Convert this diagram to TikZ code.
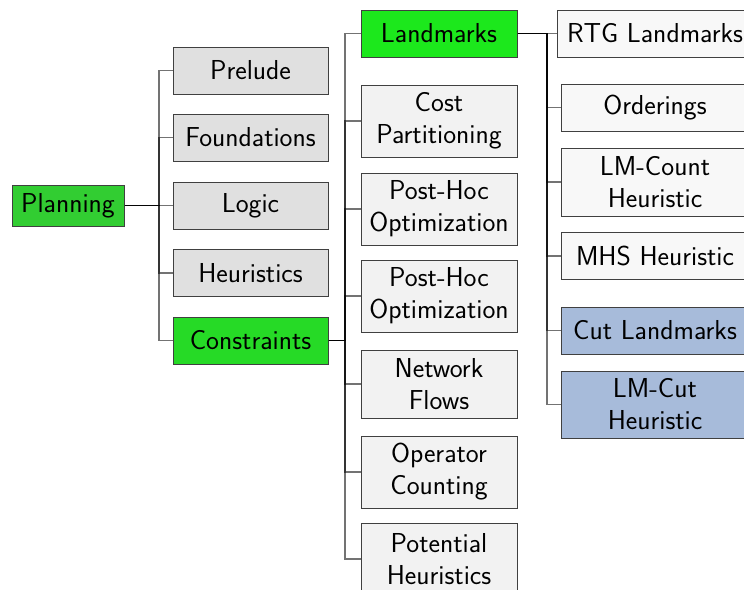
\documentclass[tikz,border=0pt]{standalone}
\usetikzlibrary{positioning}
\definecolor{gA}{RGB}{50,205,50}
\definecolor{gB}{RGB}{38,218,38}
\definecolor{gC}{RGB}{28,232,28}
\definecolor{blueC}{RGB}{167,187,218}
\definecolor{grayA}{RGB}{224,224,224}
\definecolor{grayB}{RGB}{242,242,242}
\definecolor{grayC}{RGB}{248,248,248}
\begin{document}
\begin{tikzpicture}[x=1pt,y=-1pt,
  box/.style={draw=black!75, line width=1pt, rectangle, inner sep=0pt, align=center,
    font=\sffamily\fontsize{27.4}{32}\selectfont},
  conn/.style={draw=black, draw opacity=0.55, line width=1.1pt}]
\clip (0,0) rectangle (744,589);
\useasboundingbox (0,0) rectangle (744,589);
% column 1
\node[box, fill=gA, minimum width=112pt, minimum height=41pt] (planning) at (68,205.5) {Planning};
% column 2
\tikzset{c2/.style={box, fill=grayA, minimum width=155pt, minimum height=47pt}}
\node[c2] (prelude) at (250.5,70.5) {Prelude};
\node[c2] (found) at (250.5,137.5) {Foundations};
\node[c2] (logic) at (250.5,205.5) {Logic};
\node[c2] (heur) at (250.5,273) {Heuristics};
\node[c2, fill=gB] (constr) at (250.5,340.5) {Constraints};
% column 3
\tikzset{c3/.style={box, fill=grayB, minimum width=156pt, minimum height=72pt}}
\node[c3, fill=gC, minimum height=47pt] (landm) at (439,33.5) {Landmarks};
\node[c3] (cost) at (439,121) {Cost\\Partitioning};
\node[c3] (pho1) at (439,209) {Post-Hoc\\Optimization};
\node[c3] (pho2) at (439,296) {Post-Hoc\\Optimization};
\node[c3, minimum height=68pt] (netf) at (439,384) {Network\\Flows};
\node[c3] (opc) at (439,472) {Operator\\Counting};
\node[c3] (pot) at (439,559) {Potential\\Heuristics};
% column 4
\tikzset{c4/.style={box, fill=grayC, minimum width=188pt, minimum height=47pt}}
\node[c4, minimum width=196pt] (rtg) at (655,33.5) {RTG Landmarks};
\node[c4] (ord) at (655,107.5) {Orderings};
\node[c4, minimum height=68pt] (lmc) at (655,182) {LM-Count\\Heuristic};
\node[c4] (mhs) at (655,256) {MHS Heuristic};
\node[c4, fill=blueC] (cut) at (655,330.5) {Cut Landmarks};
\node[c4, fill=blueC, minimum height=67pt] (lmcut) at (655,404.5) {LM-Cut\\Heuristic};
% junctions
\coordinate (j1) at (159,205.5);
\coordinate (j2) at (345,340.5);
\coordinate (j3) at (547,33.5);
% connectors
\foreach \c in {prelude,found,logic,heur,constr}
  \draw[conn] (planning.east) -- (j1) |- (\c.west);
\foreach \c in {landm,cost,pho1,pho2,netf,opc,pot}
  \draw[conn] (constr.east) -- (j2) |- (\c.west);
\foreach \c in {rtg,ord,lmc,mhs,cut,lmcut}
  \draw[conn] (landm.east) -- (j3) |- (\c.west);
\end{tikzpicture}
\end{document}
